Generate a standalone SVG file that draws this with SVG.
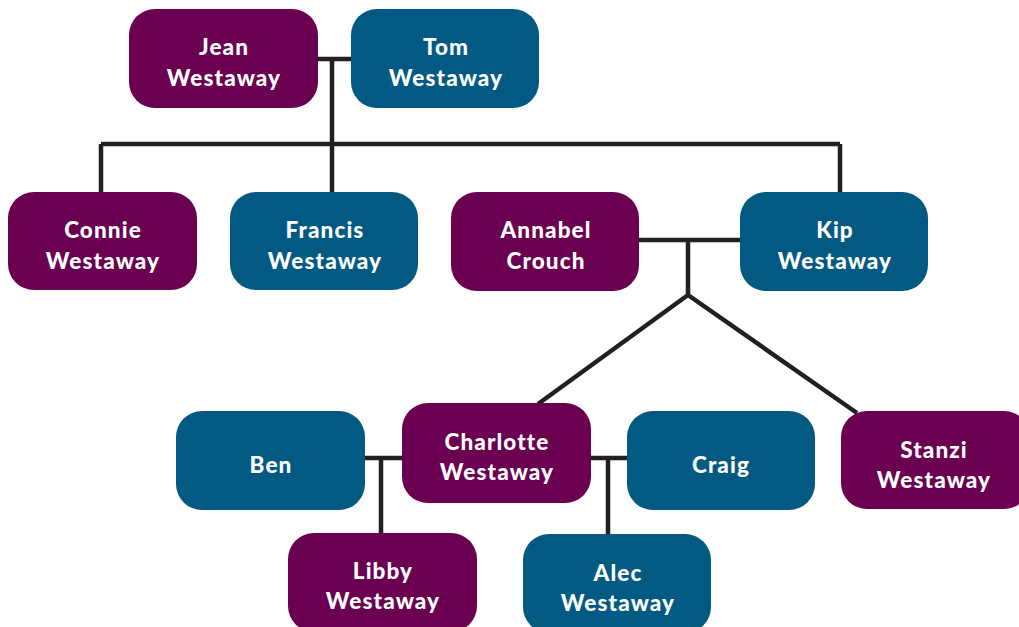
<svg xmlns="http://www.w3.org/2000/svg" width="1019" height="627" viewBox="0 0 1019 627">
<style>
.p{fill:#6a004f}
.b{fill:#025a83}
.t{font-family:Lato,"Open Sans",sans-serif;font-weight:900;font-size:22.5px;letter-spacing:1.1px;fill:#fff;text-anchor:middle}
.c{stroke:#231f20;stroke-width:4.5;fill:none}
</style>
<rect width="1019" height="627" fill="#fff"/>
<g id="connectors" class="c">
<path d="M318 59H351M332 59V144M101 144H840M101 144V192M332 144V192M840 144V192"/>
<path d="M639 240H740M688 240V295M688 295L538 404M688 295L857 413"/>
<path d="M365 458H402M381 458V533M591 458H627M608 458V534"/>
</g>
<g id="jean"><rect class="p" x="129" y="9" width="189" height="99" rx="26"/><text class="t" x="224" y="55">Jean</text><text class="t" x="224" y="86">Westaway</text></g>
<g id="tom"><rect class="b" x="351" y="9" width="188" height="99" rx="26"/><text class="t" x="446" y="55">Tom</text><text class="t" x="446" y="86">Westaway</text></g>
<g id="connie"><rect class="p" x="8" y="192" width="189" height="98" rx="26"/><text class="t" x="103" y="238">Connie</text><text class="t" x="103" y="269">Westaway</text></g>
<g id="francis"><rect class="b" x="230" y="192" width="188" height="98" rx="26"/><text class="t" x="325" y="238">Francis</text><text class="t" x="325" y="269">Westaway</text></g>
<g id="annabel"><rect class="p" x="451" y="192" width="188" height="99" rx="26"/><text class="t" x="546" y="238">Annabel</text><text class="t" x="546" y="269">Crouch</text></g>
<g id="kip"><rect class="b" x="740" y="192" width="188" height="99" rx="26"/><text class="t" x="835" y="238">Kip</text><text class="t" x="835" y="269">Westaway</text></g>
<g id="ben"><rect class="b" x="176" y="411" width="189" height="99" rx="26"/><text class="t" x="271" y="473">Ben</text></g>
<g id="charlotte"><rect class="p" x="402" y="403" width="189" height="100" rx="26"/><text class="t" x="497" y="450">Charlotte</text><text class="t" x="497" y="480">Westaway</text></g>
<g id="craig"><rect class="b" x="627" y="411" width="188" height="99" rx="26"/><text class="t" x="721" y="473">Craig</text></g>
<g id="stanzi"><rect class="p" x="841" y="411" width="189" height="98" rx="26"/><text class="t" x="934" y="458">Stanzi</text><text class="t" x="934" y="488">Westaway</text></g>
<g id="libby"><rect class="p" x="288" y="533" width="189" height="99" rx="26"/><text class="t" x="383" y="579">Libby</text><text class="t" x="383" y="609">Westaway</text></g>
<g id="alec"><rect class="b" x="523" y="534" width="188" height="99" rx="26"/><text class="t" x="618" y="581">Alec</text><text class="t" x="618" y="611">Westaway</text></g>
</svg>
